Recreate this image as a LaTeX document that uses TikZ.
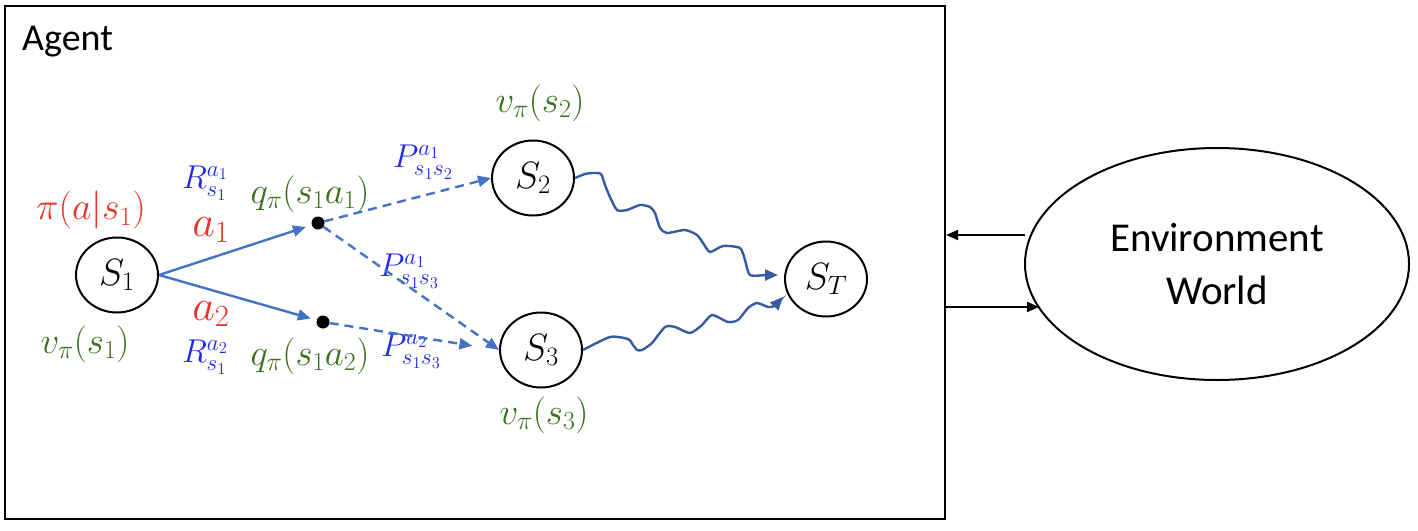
\RequirePackage{fix-cm}
\documentclass[tikz,border=0pt]{standalone}
\usepackage{fontspec}
\newfontfamily\calibri{Carlito}
\usetikzlibrary{shapes.geometric,arrows.meta}
\definecolor{edgeblue}{RGB}{68,114,196}
\definecolor{wavyblue}{RGB}{55,90,160}
\definecolor{labred}{RGB}{232,52,42}
\definecolor{labblue}{RGB}{30,40,232}
\definecolor{labgreen}{RGB}{58,112,30}
\tikzset{
  statenode/.style={draw=black, line width=2pt, ellipse, minimum width=82pt, minimum height=75pt, inner sep=0pt, font=\fontsize{38}{42}\selectfont},
  dotnode/.style={circle, fill=black, minimum size=13pt, inner sep=0pt},
  redlab/.style={text=labred, inner sep=0pt, font=\fontsize{38}{42}\selectfont},
  biglab/.style={text=labred, inner sep=0pt, font=\fontsize{44}{48}\selectfont},
  bluelab/.style={text=labblue, inner sep=0pt, font=\fontsize{33}{36}\selectfont},
  greenlab/.style={text=labgreen, inner sep=0pt, font=\fontsize{37}{42}\selectfont},
  actarrow/.style={draw=edgeblue, line width=2.4pt, -{Triangle[length=13pt,width=11pt]}},
  transarrow/.style={draw=edgeblue, line width=2.4pt, dash pattern=on 9pt off 6pt, -{Triangle[length=13pt,width=11pt]}},
  wavyarrow/.style={draw=wavyblue, line width=2.4pt, -{Triangle[length=13pt,width=11pt]}},
  envarrow/.style={draw=black, line width=2pt, -{Triangle[length=12pt,width=10pt]}},
}
\begin{document}
\begin{tikzpicture}[x=1pt,y=-1pt]
\useasboundingbox (0,0) rectangle (1418,530);
% agent box
\node[draw=black, line width=2.2pt, minimum width=940pt, minimum height=513pt, inner sep=0pt] (agentbox) at (475,262.5) {};
\node[anchor=base west, inner sep=0pt, font=\calibri\fontsize{38}{42}\selectfont] (agentlab) at (22,50) {Agent};
% environment
\node[draw=black, line width=2pt, ellipse, minimum width=384pt, minimum height=232pt, inner sep=0pt, align=center, font=\calibri\fontsize{41}{53}\selectfont] (env) at (1217,264) {Environment\\World};
% states
\node[statenode] (S1) at (117,275) {$S_1$};
\node[statenode] (S2) at (533,178) {$S_2$};
\node[statenode] (S3) at (541,350) {$S_3$};
\node[statenode] (ST) at (826,279) {$S_T$};
% action dots
\node[dotnode] (d1) at (318,223) {};
\node[dotnode] (d2) at (323,322) {};
% labels
\node[redlab] (pilab) at (91,210) {$\pi(a|s_1)$};
\node[biglab] (a1lab) at (211,230) {$a_1$};
\node[biglab] (a2lab) at (211,314) {$a_2$};
\node[bluelab] (R1lab) at (205,183) {$R^{a_1}_{s_1}$};
\node[bluelab] (R2lab) at (205,357) {$R^{a_2}_{s_1}$};
\node[greenlab] (q1lab) at (310,194) {$q_\pi(s_1a_1)$};
\node[greenlab] (q2lab) at (310,356) {$q_\pi(s_1a_2)$};
\node[greenlab] (v1lab) at (85,344) {$v_\pi(s_1)$};
\node[greenlab] (v2lab) at (540,103) {$v_\pi(s_2)$};
\node[greenlab] (v3lab) at (544,415) {$v_\pi(s_3)$};
\node[bluelab] (P12lab) at (423,162) {$P^{a_1}_{s_1s_2}$};
\node[bluelab] (P13lab) at (409,271) {$P^{a_1}_{s_1s_3}$};
\node[bluelab] (P23lab) at (411,351) {$P^{a_2}_{s_1s_3}$};
% action arrows
\draw[actarrow, shorten >=6pt] (S1.east) -- (d1);
\draw[actarrow, shorten >=6pt] (S1.east) -- (d2);
% transition arrows
\draw[transarrow] (d1) -- (S2.west);
\draw[transarrow] (d1) -- (S3.west);
\draw[transarrow, shorten >=27pt] (d2) -- (S3.west);
% wavy paths to terminal
\coordinate (stin1) at (778,275);
\coordinate (stin2) at (783,297);
\draw[wavyarrow] plot[smooth, tension=0.4] coordinates {(S2.east) (585,174) (593,173) (601,174) (605,185) (610,197) (617,210) (627,210) (640,205) (650,207) (655,213) (660,228) (667,233) (685,230) (697,235) (703,243) (710,252) (723,246) (740,248) (745,260) (750,275) (767,275) (stin1)};
\draw[wavyarrow] plot[smooth, tension=0.4] coordinates {(S3.east) (610,337) (628,339) (633,345) (637,350) (642,350) (652,343) (665,327) (675,327) (690,333) (702,325) (712,315) (728,322) (738,320) (748,308) (757,303) (768,307) (774,306) (stin2)};
% environment arrows
\coordinate (eout) at (1025,235);
\coordinate (ein) at (1039,307);
\draw[envarrow] (eout) -- (agentbox.east |- eout);
\draw[envarrow] (agentbox.east |- ein) -- (ein);
\end{tikzpicture}
\end{document}
